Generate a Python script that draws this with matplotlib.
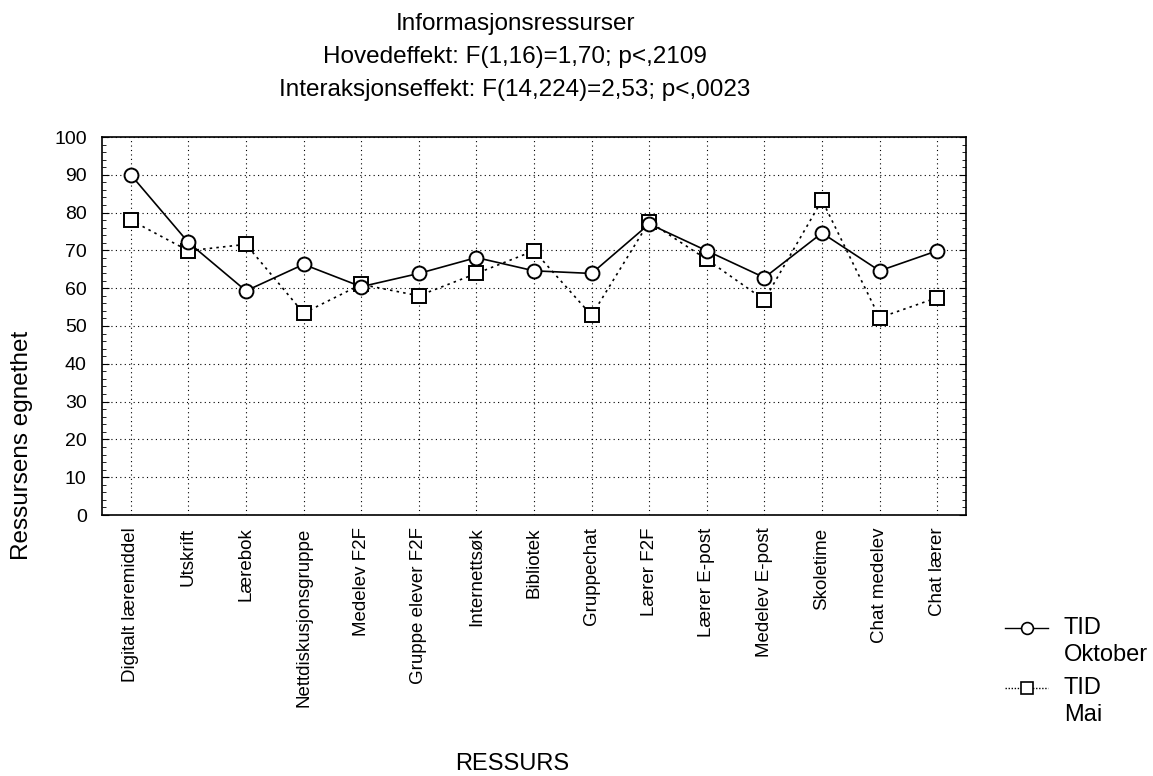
import matplotlib
matplotlib.use("Agg")
import matplotlib.pyplot as plt
from matplotlib.ticker import MultipleLocator
from matplotlib.lines import Line2D

plt.rcParams['font.family'] = ['Liberation Sans', 'DejaVu Sans']

# Ressurser og gjennomsnittlig egnethet ved de to tidspunktene
ressurser = ['Digitalt læremiddel', 'Utskrift', 'Lærebok', 'Nettdiskusjonsgruppe',
             'Medelev F2F', 'Gruppe elever F2F', 'Internettsøk', 'Bibliotek',
             'Gruppechat', 'Lærer F2F', 'Lærer E-post', 'Medelev E-post',
             'Skoletime', 'Chat medelev', 'Chat lærer']
oktober = [90.0, 72.1, 59.3, 66.3, 60.4, 63.9, 68.1, 64.6, 63.9, 77.0, 69.9, 62.8, 74.6, 64.6, 69.9]
mai = [78.0, 69.9, 71.6, 53.4, 61.0, 58.0, 63.9, 69.9, 52.8, 77.6, 67.6, 56.9, 83.3, 52.2, 57.5]

tittel = ['Informasjonsressurser',
          'Hovedeffekt: F(1,16)=1,70; p<,2109',
          'Interaksjonseffekt: F(14,224)=2,53; p<,0023']

W, H = 1153, 776
fig = plt.figure(figsize=(W / 100, H / 100), dpi=100)
ax = fig.add_axes([102 / W, 1 - 515 / H, 864 / W, 378 / H])

x = range(len(ressurser))
ax.plot(x, oktober, color='black', linestyle='-', linewidth=1.2, marker='o',
        markersize=10, markerfacecolor='white', markeredgecolor='black',
        markeredgewidth=1.4, zorder=4)
ax.plot(x, mai, color='black', linestyle=(0, (1.5, 2.5)), linewidth=1.2, marker='s',
        markersize=9.5, markerfacecolor='white', markeredgecolor='black',
        markeredgewidth=1.4, zorder=3)

ax.set_xlim(-0.5, len(ressurser) - 0.5)
ax.set_ylim(0, 100)
ax.yaxis.set_major_locator(MultipleLocator(10))
ax.yaxis.set_minor_locator(MultipleLocator(2))
ax.set_xticks(list(x))
ax.set_xticklabels(ressurser, rotation=90, fontsize=13.5)
ax.tick_params(axis='y', which='both', direction='in', right=True, labelsize=14, pad=11)
ax.tick_params(axis='y', which='major', length=5)
ax.tick_params(axis='y', which='minor', length=3)
ax.tick_params(axis='x', length=0, pad=9)
ax.grid(True, color='black', linestyle=(0, (1, 3)), linewidth=0.8)
for s in ax.spines.values():
    s.set_linewidth(1.2)

fig.text(22 / W, 1 - 445 / H, 'Ressursens egnethet', rotation=90, ha='center', va='center', fontsize=17.5)
fig.text(512 / W, 1 - 764 / H, 'RESSURS', ha='center', va='center', fontsize=17)

for i, linje in enumerate(tittel):
    fig.text(515 / W, 1 - (24 + 33 * i) / H, linje, ha='center', va='center', fontsize=17.5)

# Tegnforklaring: symbol på linje med første tekstlinje
legend_items = [
    ('-', 'o', 'TID', 'Oktober', 628),
    ((0, (1, 1.2)), 's', 'TID', 'Mai', 688),
]
for ls, mk, l1, l2, yp in legend_items:
    fig.add_artist(Line2D([1005 / W, 1048 / W], [1 - yp / H, 1 - yp / H], transform=fig.transFigure,
                          color='black', linestyle=ls, linewidth=1, marker=None))
    fig.add_artist(Line2D([1026.5 / W], [1 - yp / H], transform=fig.transFigure,
                          marker=mk, markersize=8.5, markerfacecolor='white',
                          markeredgecolor='black', markeredgewidth=1.2, linestyle='none'))
    fig.text(1064 / W, 1 - yp / H, l1, ha='left', va='center', fontsize=17)
    fig.text(1064 / W, 1 - (yp + 27) / H, l2, ha='left', va='center', fontsize=17)

fig.savefig('out.png', dpi=100)
